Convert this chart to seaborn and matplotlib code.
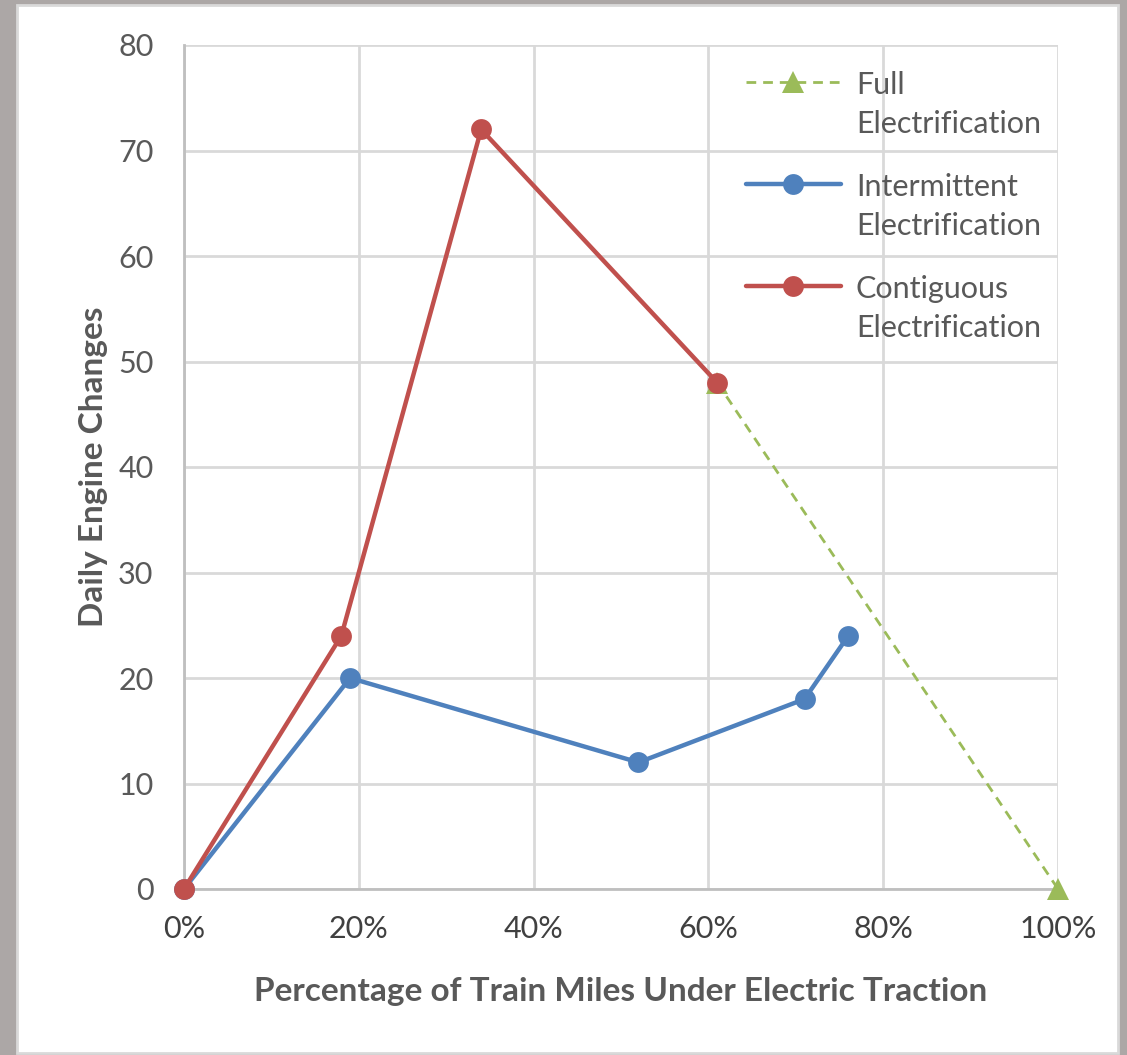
import matplotlib
matplotlib.use("Agg")
import matplotlib.pyplot as plt
import seaborn as sns
import pandas as pd
from matplotlib.patches import Rectangle
from matplotlib.ticker import PercentFormatter

# data (x = share of train miles, y = daily engine changes)
full_x = [0.61, 1.00]
full_y = [48, 0]

inter_x = [0.0, 0.19, 0.52, 0.71, 0.76]
inter_y = [0, 20, 12, 18, 24]

contig_x = [0.0, 0.18, 0.34, 0.61]
contig_y = [0, 24, 72, 48]

labels = ["Full\nElectrification", "Intermittent\nElectrification", "Contiguous\nElectrification"]
colors = ["#9bbb59", "#4f81bd", "#c0504d"]

sns.set_style("white")
plt.rcParams['font.family'] = ['Lato', 'DejaVu Sans']

fig = plt.figure(figsize=(11.27, 10.55), dpi=100)
fig.patch.set_facecolor("#aca7a6")
# white chart area with thin light border
fig.add_artist(Rectangle((17 / 1127, 2 / 1055), 1101 / 1127, 1048 / 1055,
                         transform=fig.transFigure, facecolor="white",
                         edgecolor="#d9d9d9", linewidth=2, zorder=0))

ax = fig.add_axes([184 / 1127, 1 - 889 / 1055, 874 / 1127, 844 / 1055])
ax.set_facecolor("white")

full = pd.DataFrame({"x": full_x, "y": full_y})
inter = pd.DataFrame({"x": inter_x, "y": inter_y})
contig = pd.DataFrame({"x": contig_x, "y": contig_y})

sns.lineplot(data=full, x="x", y="y", ax=ax, color=colors[0], linestyle=(0, (3.5, 2.5)),
             linewidth=2, marker="^", markersize=16, markeredgewidth=0,
             label=labels[0], clip_on=False, zorder=3)
sns.lineplot(data=inter, x="x", y="y", ax=ax, color=colors[1], linewidth=3.2,
             marker="o", markersize=15, markeredgewidth=0,
             label=labels[1], clip_on=False, zorder=4)
sns.lineplot(data=contig, x="x", y="y", ax=ax, color=colors[2], linewidth=3.2,
             marker="o", markersize=15, markeredgewidth=0,
             label=labels[2], clip_on=False, zorder=5)

ax.set_xlim(0, 1)
ax.set_ylim(0, 80)
ax.set_xticks([0, 0.2, 0.4, 0.6, 0.8, 1.0])
ax.set_yticks(range(0, 81, 10))
ax.xaxis.set_major_formatter(PercentFormatter(1.0, decimals=0))
ax.grid(True, color="#d9d9d9", linewidth=2)
ax.set_axisbelow(True)
for s in ["top", "right"]:
    ax.spines[s].set_visible(False)
for s in ["left", "bottom"]:
    ax.spines[s].set_color("#bfbfbf")
    ax.spines[s].set_linewidth(2)

ax.tick_params(axis="both", length=0, labelsize=22)
ax.tick_params(axis="x", pad=19, labelcolor="#404040")
ax.tick_params(axis="y", pad=22, labelcolor="#595959")

ax.set_xlabel("Percentage of Train Miles Under Electric Traction", fontsize=24,
              fontweight="bold", color="#595959", labelpad=24)
ax.set_ylabel("Daily Engine Changes", fontsize=24, fontweight="bold",
              color="#595959", labelpad=7)

leg = ax.legend(loc="upper right", bbox_to_anchor=(1.012, 1.002), frameon=False,
                fontsize=22, handlelength=3.1, labelspacing=1.13, handletextpad=0.5)
for t in leg.get_texts():
    t.set_color("#595959")
    t.set_linespacing(1.5)
# put each handle level with the first line of its label
for col in leg._legend_handle_box.get_children():
    for item in col.get_children():
        item.align = "top"

fig.savefig("out.png", dpi=100, facecolor=fig.get_facecolor())
